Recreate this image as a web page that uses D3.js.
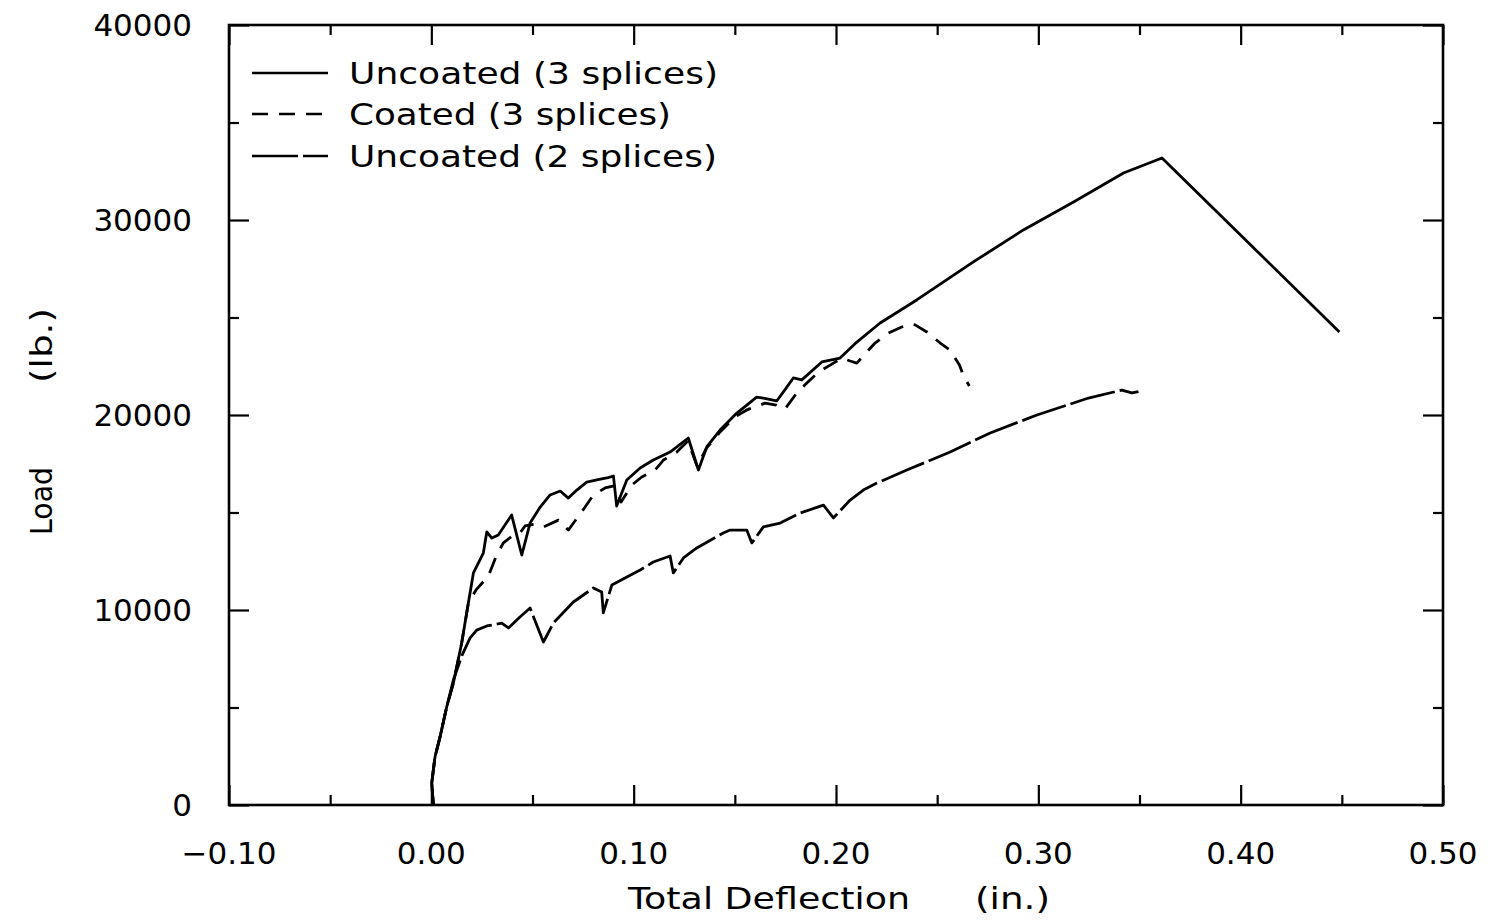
<!DOCTYPE html>
<html>
<head>
<meta charset="utf-8">
<script src="https://cdn.jsdelivr.net/npm/d3@7"></script>
<style>
  html, body { margin: 0; padding: 0; background: #fff; }
  svg { display: block; }
  text { font-family: "DejaVu Sans", sans-serif; fill: #000; }
</style>
</head>
<body>
<svg id="chart" width="1488" height="922"></svg>
<script>
// ---- Data (Total deflection in., Load lb.) ----
const uncoated3X = [0.0010, 0.0002, 0.0018, 0.0043, 0.0076, 0.0109, 0.0150, 0.0183, 0.0208, 0.0257, 0.0274, 0.0299, 0.0331, 0.0397, 0.0447, 0.0488, 0.0538, 0.0587, 0.0637, 0.0677, 0.0719, 0.0768, 0.0818, 0.0867, 0.0900, 0.0916, 0.0966, 0.1032, 0.1097, 0.1180, 0.1270, 0.1320, 0.1361, 0.1427, 0.1510, 0.1608, 0.1641, 0.1707, 0.1757, 0.1789, 0.1831, 0.1930, 0.2020, 0.2103, 0.2218, 0.2399, 0.2679, 0.2926, 0.3174, 0.3421, 0.3611, 0.4488];
const uncoated3Y = [0, 1130, 2460, 3490, 5030, 6260, 8310, 10360, 11900, 12920, 14000, 13690, 13850, 14870, 12820, 14460, 15280, 15900, 16100, 15740, 16150, 16560, 16670, 16770, 16870, 15330, 16670, 17280, 17690, 18100, 18820, 17180, 18360, 19230, 20100, 20920, 20870, 20720, 21430, 21900, 21800, 22720, 22920, 23740, 24720, 25900, 27850, 29490, 30920, 32410, 33180, 24260];

const coated3X = [0.0010, 0.0002, 0.0018, 0.0043, 0.0076, 0.0109, 0.0150, 0.0183, 0.0221, 0.0282, 0.0323, 0.0356, 0.0399, 0.0438, 0.0463, 0.0513, 0.0554, 0.0628, 0.0677, 0.0760, 0.0801, 0.0859, 0.0903, 0.0938, 0.0991, 0.1040, 0.1106, 0.1147, 0.1213, 0.1269, 0.1313, 0.1361, 0.1427, 0.1501, 0.1559, 0.1650, 0.1704, 0.1748, 0.1806, 0.1856, 0.1913, 0.1971, 0.2029, 0.2070, 0.2103, 0.2152, 0.2193, 0.2259, 0.2325, 0.2366, 0.2391, 0.2449, 0.2515, 0.2564, 0.2610, 0.2633, 0.2659];
const coated3Y = [0, 1130, 2460, 3490, 5030, 6260, 8310, 10360, 11030, 11740, 12820, 13440, 13790, 13950, 14310, 14410, 14260, 14610, 14100, 15280, 15900, 16260, 16360, 15540, 16410, 16820, 17180, 17690, 18100, 18670, 17380, 18310, 19130, 19900, 20260, 20610, 20510, 20310, 21130, 21640, 22200, 22560, 22920, 22770, 22660, 23230, 23690, 24200, 24510, 24670, 24620, 24260, 23690, 23330, 22560, 21950, 21490];

const uncoated2X = [0.0010, 0.0002, 0.0018, 0.0043, 0.0076, 0.0109, 0.0152, 0.0191, 0.0224, 0.0274, 0.0348, 0.0381, 0.0438, 0.0488, 0.0554, 0.0603, 0.0702, 0.0801, 0.0842, 0.0850, 0.0892, 0.1032, 0.1097, 0.1180, 0.1196, 0.1246, 0.1312, 0.1443, 0.1477, 0.1559, 0.1584, 0.1641, 0.1724, 0.1823, 0.1938, 0.1987, 0.2070, 0.2135, 0.2202, 0.2350, 0.2564, 0.2762, 0.2993, 0.3248, 0.3413, 0.3462, 0.3495];
const uncoated2Y = [0, 1130, 2460, 3490, 5030, 6410, 7690, 8560, 8970, 9180, 9330, 9080, 9640, 10100, 8360, 9330, 10410, 11130, 10920, 9850, 11280, 12050, 12460, 12770, 11900, 12670, 13180, 13950, 14100, 14100, 13440, 14260, 14460, 14970, 15380, 14720, 15640, 16150, 16510, 17180, 18100, 19080, 20000, 20870, 21280, 21130, 21200];

const xMajorTicks = [-0.10, 0.00, 0.10, 0.20, 0.30, 0.40, 0.50];
const xMinorTicks = [-0.05, 0.05, 0.15, 0.25, 0.35, 0.45];
const xTickLabels = ["\u22120.10", "0.00", "0.10", "0.20", "0.30", "0.40", "0.50"];
const yMajorTicks = [0, 10000, 20000, 30000, 40000];
const yMinorTicks = [5000, 15000, 25000, 35000];
const yTickLabels = ["0", "10000", "20000", "30000", "40000"];

const seriesNames = ["Uncoated (3 splices)", "Coated (3 splices)", "Uncoated (2 splices)"];
const seriesDash = [null, "16,11", "46,5"];

// ---- Layout ----
const svg = d3.select("#chart");
const L = 229, R = 1443, T = 25, B = 805;
const x = d3.scaleLinear().domain([-0.10, 0.50]).range([L, R]);
const y = d3.scaleLinear().domain([0, 40000]).range([B, T]);

const majorLen = 20, minorLen = 10;
const tickStyle = g => {
  g.select(".domain").remove();
  g.selectAll("line").attr("stroke", "#000").attr("stroke-width", 2.2);
  g.selectAll("text").remove();
};

// bottom
svg.append("g").attr("transform", `translate(0,${B})`)
  .call(d3.axisBottom(x).tickValues(xMajorTicks).tickSizeInner(-majorLen).tickSizeOuter(0)).call(tickStyle);
svg.append("g").attr("transform", `translate(0,${B})`)
  .call(d3.axisBottom(x).tickValues(xMinorTicks).tickSizeInner(-minorLen).tickSizeOuter(0)).call(tickStyle);
// top
svg.append("g").attr("transform", `translate(0,${T})`)
  .call(d3.axisTop(x).tickValues(xMajorTicks).tickSizeInner(-majorLen).tickSizeOuter(0)).call(tickStyle);
svg.append("g").attr("transform", `translate(0,${T})`)
  .call(d3.axisTop(x).tickValues(xMinorTicks).tickSizeInner(-minorLen).tickSizeOuter(0)).call(tickStyle);
// left
svg.append("g").attr("transform", `translate(${L},0)`)
  .call(d3.axisLeft(y).tickValues(yMajorTicks).tickSizeInner(-majorLen).tickSizeOuter(0)).call(tickStyle);
svg.append("g").attr("transform", `translate(${L},0)`)
  .call(d3.axisLeft(y).tickValues(yMinorTicks).tickSizeInner(-minorLen).tickSizeOuter(0)).call(tickStyle);
// right
svg.append("g").attr("transform", `translate(${R},0)`)
  .call(d3.axisRight(y).tickValues(yMajorTicks).tickSizeInner(-majorLen).tickSizeOuter(0)).call(tickStyle);
svg.append("g").attr("transform", `translate(${R},0)`)
  .call(d3.axisRight(y).tickValues(yMinorTicks).tickSizeInner(-minorLen).tickSizeOuter(0)).call(tickStyle);

// frame
svg.append("rect").attr("x", L).attr("y", T).attr("width", R - L).attr("height", B - T)
  .attr("fill", "none").attr("stroke", "#000").attr("stroke-width", 2.6);

// tick labels
svg.append("g").selectAll("text").data(xMajorTicks).join("text")
  .attr("x", d => x(d)).attr("y", 864)
  .attr("text-anchor", "middle").attr("font-size", 31)
  .text((d, i) => xTickLabels[i]);
svg.append("g").selectAll("text").data(yMajorTicks).join("text")
  .attr("x", 192).attr("y", d => y(d) + 11)
  .attr("text-anchor", "end").attr("font-size", 31)
  .text((d, i) => yTickLabels[i]);

// axis titles
svg.append("text").attr("x", 628).attr("y", 909).attr("font-size", 31)
  .attr("textLength", 282).attr("lengthAdjust", "spacingAndGlyphs").text("Total Deflection");
svg.append("text").attr("x", 975).attr("y", 909).attr("font-size", 31)
  .attr("textLength", 75).attr("lengthAdjust", "spacingAndGlyphs").text("(in.)");
svg.append("text").attr("transform", "translate(52,535) rotate(-90)").attr("font-size", 31)
  .attr("textLength", 68).attr("lengthAdjust", "spacingAndGlyphs").text("Load");
svg.append("text").attr("transform", "translate(52,383) rotate(-90)").attr("font-size", 31)
  .attr("textLength", 75).attr("lengthAdjust", "spacingAndGlyphs").text("(lb.)");

// curves
const line = d3.line().x(d => x(d[0])).y(d => y(d[1]));
const seriesData = [
  d3.zip(uncoated3X, uncoated3Y),
  d3.zip(coated3X, coated3Y),
  d3.zip(uncoated2X, uncoated2Y)
];
const plot = svg.append("g");
seriesData.forEach((pts, i) => {
  plot.append("path").datum(pts).attr("d", line)
    .attr("fill", "none").attr("stroke", "#000").attr("stroke-width", 2.8)
    .attr("stroke-linejoin", "round")
    .attr("stroke-dasharray", seriesDash[i]);
});

// legend
const legendY = [73, 114, 156];
const legendW = [369, 322, 368];
const lg = svg.append("g");
seriesNames.forEach((name, i) => {
  lg.append("line").attr("x1", 252).attr("x2", 328).attr("y1", legendY[i]).attr("y2", legendY[i])
    .attr("stroke", "#000").attr("stroke-width", 2.6).attr("stroke-dasharray", seriesDash[i]);
  lg.append("text").attr("x", 349).attr("y", legendY[i] + 11).attr("font-size", 31)
    .attr("textLength", legendW[i]).attr("lengthAdjust", "spacingAndGlyphs").text(name);
});
</script>
</body>
</html>
